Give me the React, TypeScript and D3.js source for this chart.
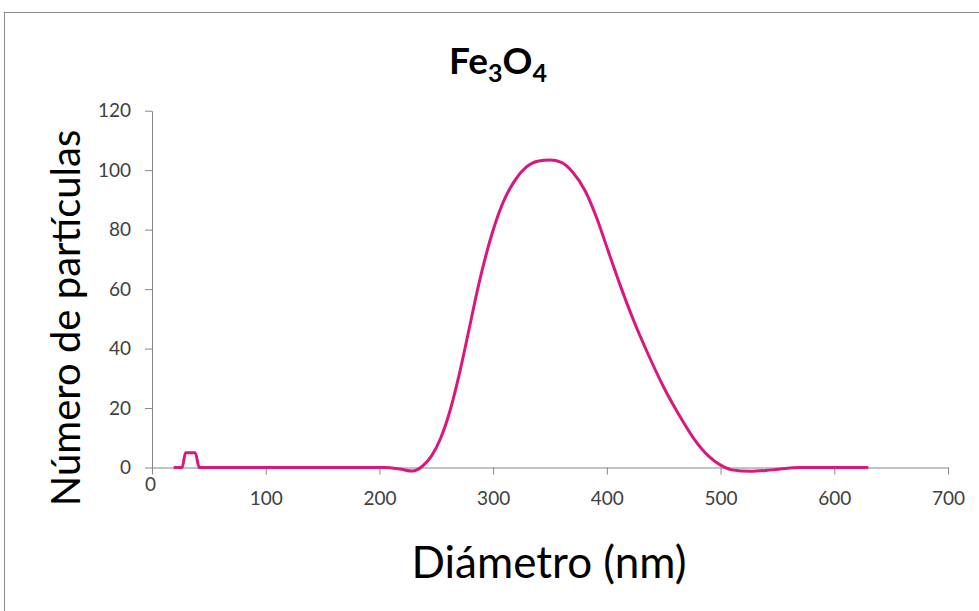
import React, { useRef, useEffect } from 'react';
import * as d3 from 'd3';

// particle size distribution
const diameters = [19, 26.5, 29.5, 38, 41.5, 45, 100, 150, 205, 218, 229, 238, 246, 254, 262, 270, 278, 287, 297, 308, 319, 329, 339, 350, 360, 370, 381, 391, 401, 412, 424, 437, 450, 463, 476, 489, 500, 510, 526, 545, 570, 600, 630];
const counts = [0, 0, 5, 5, 0, 0, 0, 0, 0, -0.5, -1.2, 0.5, 4, 10, 19, 31, 45, 61, 76, 88.5, 96.5, 101, 103, 103.4, 102.6, 99.3, 93, 84, 73, 61, 49, 37.5, 27, 18, 10, 4, 0.8, -0.8, -1.3, -0.8, 0, 0, 0];

const xTicks = [0, 100, 200, 300, 400, 500, 600, 700];
const yTicks = [0, 20, 40, 60, 80, 100, 120];

const xLabel = 'Diámetro (nm)';
const yLabel = 'Número de partículas';

const App = () => {
  const chartRef = useRef(null);

  useEffect(() => {
    const width = 979;
    const height = 611;
    const left = 152;
    const right = 948;
    const top = 110.7;
    const bottom = 467.5;
    const font = 'Lato, "Open Sans", sans-serif';

    d3.select(chartRef.current).selectAll('*').remove();

    const svg = d3
      .select(chartRef.current)
      .append('svg')
      .attr('width', width)
      .attr('height', height)
      .style('position', 'absolute')
      .style('left', 0)
      .style('top', 0);

    // chart frame
    svg
      .append('rect')
      .attr('x', 4.5)
      .attr('y', 12.5)
      .attr('width', 1000)
      .attr('height', 700)
      .attr('fill', '#ffffff')
      .attr('stroke', '#8c8c8c');

    const x = d3.scaleLinear().domain([0, 700]).range([left, right]);
    const y = d3.scaleLinear().domain([0, 120]).range([bottom, top]);

    // x axis
    const gx = svg
      .append('g')
      .attr('transform', `translate(0, ${bottom})`)
      .call(d3.axisBottom(x).tickValues(xTicks).tickSize(7).tickPadding(17).tickSizeOuter(0))
      .call((g) => g.select('.domain').attr('stroke', '#868686'))
      .call((g) => g.selectAll('.tick line').attr('stroke', '#868686'));
    gx.selectAll('text')
      .attr('fill', '#404040')
      .attr('font-family', font)
      .attr('font-size', '19px');
    // Excel lifts the 0 label up a bit
    gx.selectAll('.tick text')
      .filter((d) => d === 0)
      .attr('dy', '-0.05em')
      .attr('x', -2);

    // y axis
    svg
      .append('g')
      .attr('transform', `translate(${left}, 0)`)
      .call(d3.axisLeft(y).tickValues(yTicks).tickSize(7).tickPadding(14).tickSizeOuter(0))
      .call((g) => g.select('.domain').attr('stroke', '#868686'))
      .call((g) => g.selectAll('.tick line').attr('stroke', '#868686'))
      .call((g) =>
        g
          .selectAll('text')
          .attr('fill', '#404040')
          .attr('font-family', font)
          .attr('font-size', '19px')
      );

    // distribution line
    const pts = diameters.map((d, i) => [d, counts[i]]);
    svg
      .append('path')
      .datum(pts)
      .attr('fill', 'none')
      .attr('stroke', '#d9177f')
      .attr('stroke-width', 3)
      .attr('stroke-linejoin', 'round')
      .attr(
        'd',
        d3
          .line()
          .curve(d3.curveMonotoneX)
          .x((d) => x(d[0]))
          .y((d) => y(d[1]))
      );

    // title Fe3O4
    const title = svg
      .append('text')
      .attr('x', 498)
      .attr('y', 74)
      .attr('text-anchor', 'middle')
      .attr('font-family', font)
      .attr('font-weight', 'bold')
      .attr('font-size', '37px')
      .attr('fill', '#000000');
    title.append('tspan').text('Fe');
    title.append('tspan').attr('dy', 8).attr('font-size', '25px').text('3');
    title.append('tspan').attr('dy', -8).text('O');
    title.append('tspan').attr('dy', 8).attr('font-size', '25px').text('4');

    // axis titles
    svg
      .append('text')
      .attr('x', 549)
      .attr('y', 578)
      .attr('text-anchor', 'middle')
      .attr('font-family', font)
      .attr('font-size', '44px')
      .attr('fill', '#000000')
      .text(xLabel);

    svg
      .append('text')
      .attr('transform', 'translate(80, 318) rotate(-90)')
      .attr('text-anchor', 'middle')
      .attr('font-family', font)
      .attr('font-size', '40px')
      .attr('fill', '#000000')
      .text(yLabel);
  }, []);

  return <div ref={chartRef}></div>;
};

export default App;
